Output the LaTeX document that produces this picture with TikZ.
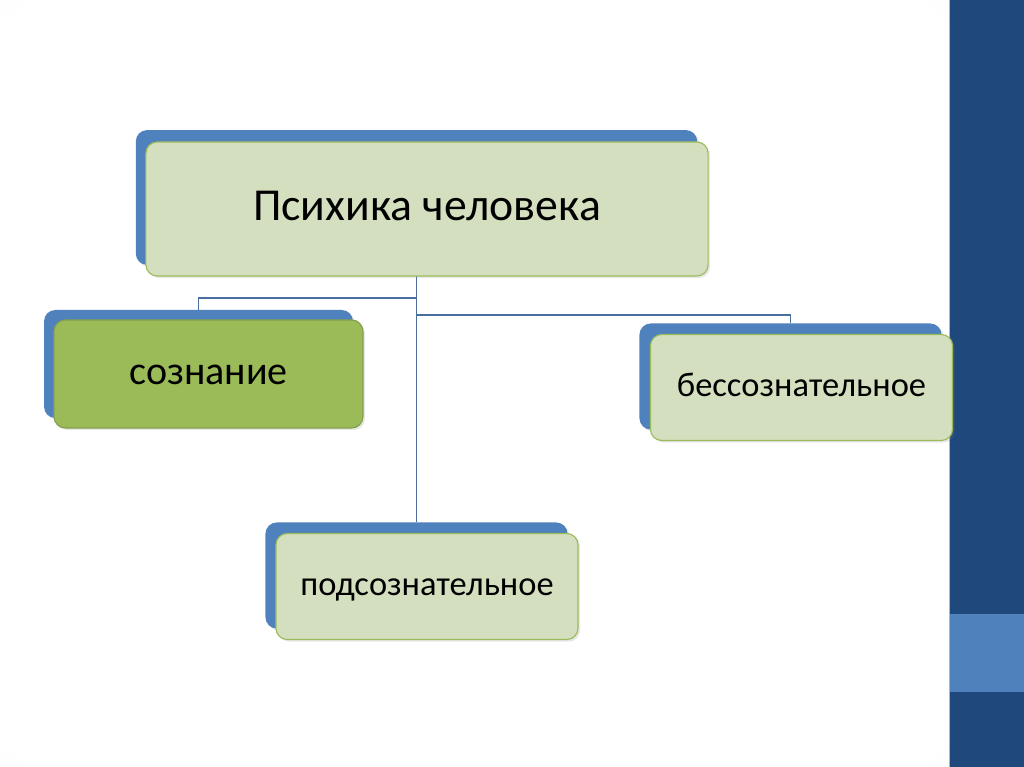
\documentclass[tikz,border=0pt]{standalone}
\usepackage{fontspec}
\setmainfont{Carlito}
\usepackage{tikz}
\usetikzlibrary{positioning,calc,shadows}
\definecolor{backblue}{HTML}{4F81BD}
\definecolor{darkbar}{HTML}{1F497D}
\definecolor{paleolive}{HTML}{D3DFBE}
\definecolor{olive}{HTML}{9BBB59}
\definecolor{linkblue}{HTML}{4A6E9E}
\pgfdeclareradialshading{vignette}{\pgfpoint{0bp}{0bp}}{color(0bp)=(white); color(34bp)=(white); color(72bp)=(black!20)}
\begin{document}
\begin{tikzpicture}[x=0.025cm,y=-0.025cm,
  box/.style={draw=olive,line width=0.8pt,rounded corners=8pt,fill=#1,inner sep=0pt,
     minimum width=7.55cm,minimum height=2.65cm,font=\fontsize{24.5}{30}\selectfont,
     text height=18.4pt,text depth=6.1pt,
     drop shadow={opacity=0.18,shadow xshift=1.5pt,shadow yshift=-1.5pt}},
  box/.default=paleolive,
  under/.style={fill=backblue,rounded corners=8pt,inner sep=0pt,
     minimum width=7.55cm,minimum height=2.65cm,
     drop shadow={opacity=0.18,shadow xshift=1.5pt,shadow yshift=-1.5pt}},
  link/.style={draw=linkblue,line width=0.9pt}]
\useasboundingbox (0,0) rectangle (1024,767);
% slide background and side bar
\shade[shading=vignette] (0,0) rectangle (949,767);
\fill[darkbar] (949,0) rectangle (1024,767);
\fill[backblue] (949,614) rectangle (1024,692);
\draw[backblue!55,line width=0.8pt] (949.5,0) -- (949.5,767);
% back plates
\node[under,minimum width=14.03cm,minimum height=3.37cm] (psycheB) at (416.5,197.5) {};
\node[under,minimum width=7.72cm,minimum height=2.7cm] (soznB) at (198.5,364) {};
\node[under] (bessB) at (790.5,376.5) {};
\node[under] (podB) at (416.5,575.5) {};
% connectors
\coordinate (jl) at (416.5,298);
\coordinate (jr) at (416.5,315);
\draw[link] (psycheB.south |- 0,276) -- (podB.north);
\draw[link] (jl) -| (soznB.north);
\draw[link] (jr) -| (bessB.north);
% boxes
\node[box,minimum width=14.05cm,minimum height=3.35cm,font=\fontsize{32.5}{40}\selectfont,
  text height=24.4pt,text depth=8.1pt] (psyche) at (427,209) {Психика человека};
\node[box=olive,draw=olive!85!black,minimum width=7.72cm,minimum height=2.7cm,
  font=\fontsize{28.5}{34}\selectfont,text height=21.4pt,text depth=7.1pt] (sozn) at (208.5,374) {сознание};
\node[box] (bess) at (801.5,387.5) {бессознательное};
\node[box] (pod) at (427,586.5) {подсознательное};
\end{tikzpicture}
\end{document}
